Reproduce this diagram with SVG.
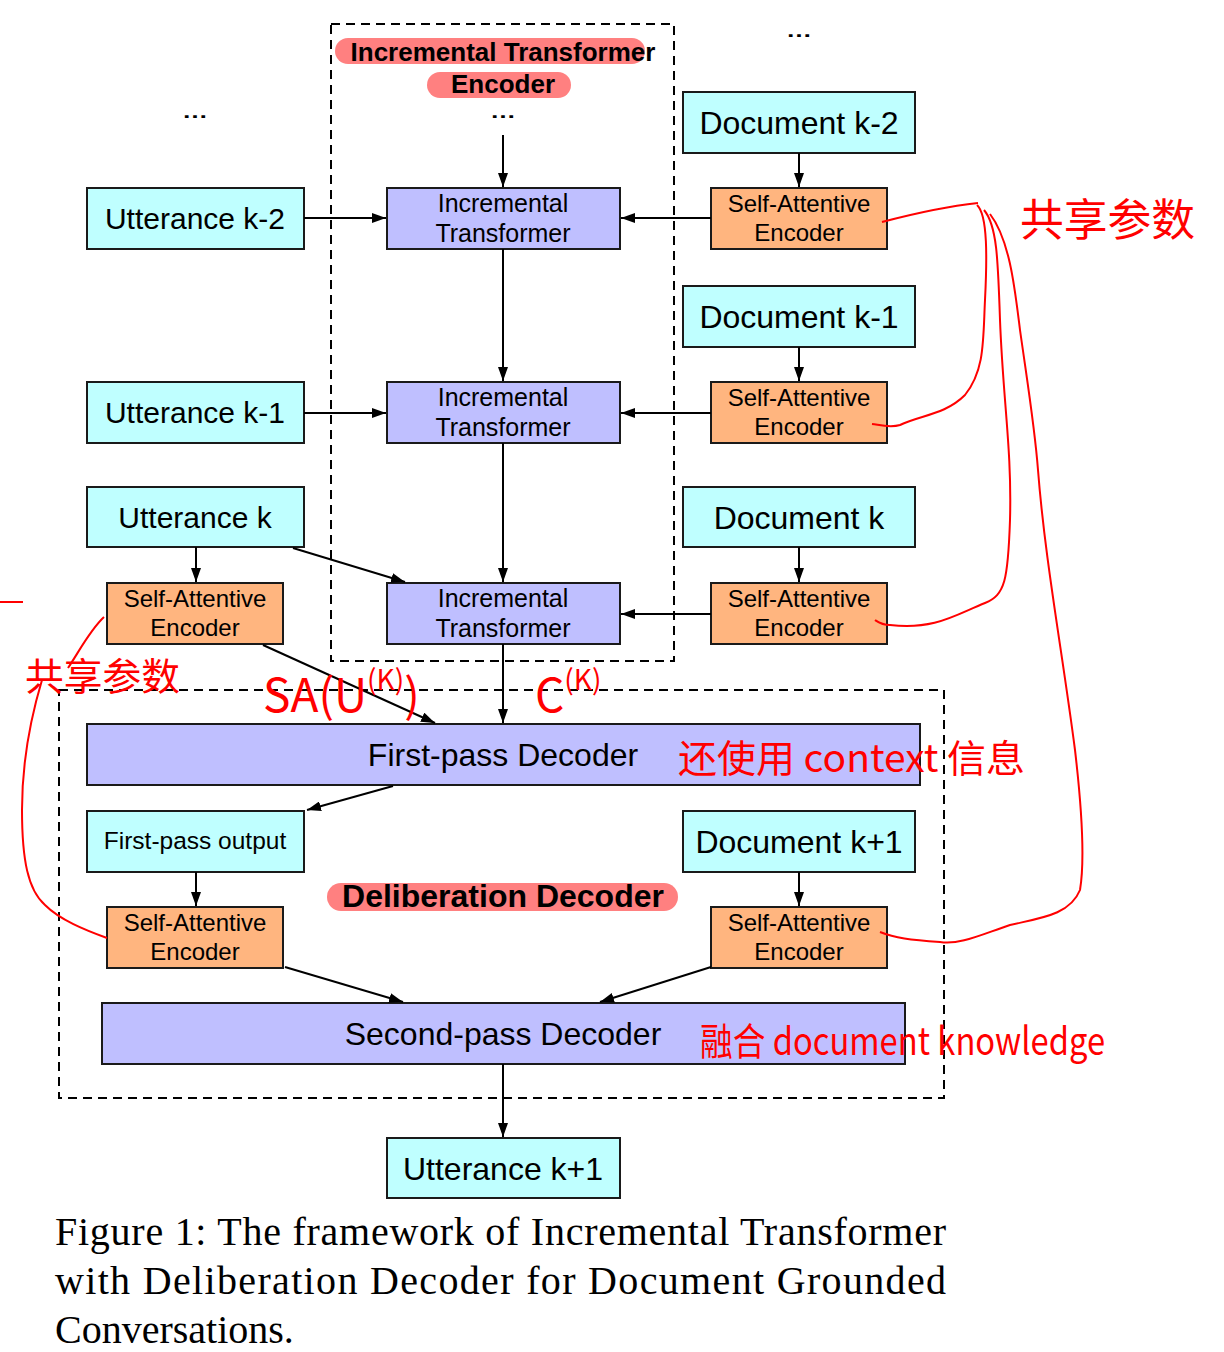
<svg xmlns="http://www.w3.org/2000/svg" width="1224" height="1352" viewBox="0 0 1224 1352">
<style>
.box{stroke:#1a1a1a;stroke-width:2}
.cy{fill:#bfffff}
.lv{fill:#bfbfff}
.or{fill:#ffb57f}
.t{font-family:"Liberation Sans",Arial,sans-serif;fill:#000;text-anchor:middle}
.b{font-weight:bold}
.dots{font-family:"Liberation Sans",Arial,sans-serif;fill:#000;font-weight:bold;font-size:18px}
.dash{fill:none;stroke:#000;stroke-width:2;stroke-dasharray:9,6}
.ln{fill:none;stroke:#000;stroke-width:2;marker-end:url(#ah)}
.pill{fill:#ff8080}
.red{fill:none;stroke:#f00;stroke-width:2}
.hw{font-family:"Noto Sans CJK SC","Noto Sans",sans-serif;fill:#f00;font-weight:400}
.cap{font-family:"Liberation Serif","Times New Roman",serif;font-size:40px;fill:#000}
</style>
<defs>
<marker id="ah" viewBox="0 0 14 10" refX="14" refY="5" markerWidth="14" markerHeight="10" markerUnits="userSpaceOnUse" orient="auto">
<path d="M0,0 L14,5 L0,10 z" fill="#000"/>
</marker>
</defs>
<rect width="1224" height="1352" fill="#fff"/>

<g id="encoder-frame">
<rect class="dash" x="331" y="24" width="343" height="637"/>
<rect class="pill" x="335" y="38" width="310" height="26" rx="13"/>
<text class="t b" x="503" y="61" font-size="26">Incremental Transformer</text>
<rect class="pill" x="427" y="72" width="144" height="26" rx="13"/>
<text class="t b" x="503" y="93" font-size="26">Encoder</text>
<text class="dots" x="490" y="118" textLength="26" lengthAdjust="spacingAndGlyphs">…</text>
</g>
<g id="deliberation-frame">
<rect class="dash" x="59" y="690" width="885" height="408"/>
<rect class="pill" x="327" y="883" width="351" height="28" rx="14"/>
<text class="t b" x="503" y="907" font-size="32">Deliberation Decoder</text>
</g>

<g id="dots-left"><text class="dots" x="182" y="118" textLength="26" lengthAdjust="spacingAndGlyphs">…</text></g>
<g id="dots-right"><text class="dots" x="786" y="37" textLength="26" lengthAdjust="spacingAndGlyphs">…</text></g>

<g id="utt-k2"><rect class="box cy" x="87" y="188" width="217" height="61"/><text class="t" x="195" y="229" font-size="30">Utterance k-2</text></g>
<g id="utt-k1"><rect class="box cy" x="87" y="382" width="217" height="61"/><text class="t" x="195" y="423" font-size="30">Utterance k-1</text></g>
<g id="utt-k"><rect class="box cy" x="87" y="487" width="217" height="60"/><text class="t" x="195" y="528" font-size="30">Utterance k</text></g>
<g id="sae-utt-k"><rect class="box or" x="107" y="583" width="176" height="61"/><text class="t" x="195" y="607" font-size="24">Self-Attentive</text><text class="t" x="195" y="636" font-size="24">Encoder</text></g>

<g id="it-k2"><rect class="box lv" x="387" y="188" width="233" height="61"/><text class="t" x="503" y="212" font-size="25">Incremental</text><text class="t" x="503" y="242" font-size="25">Transformer</text></g>
<g id="it-k1"><rect class="box lv" x="387" y="382" width="233" height="61"/><text class="t" x="503" y="406" font-size="25">Incremental</text><text class="t" x="503" y="436" font-size="25">Transformer</text></g>
<g id="it-k"><rect class="box lv" x="387" y="583" width="233" height="61"/><text class="t" x="503" y="607" font-size="25">Incremental</text><text class="t" x="503" y="637" font-size="25">Transformer</text></g>

<g id="doc-k2"><rect class="box cy" x="683" y="92" width="232" height="61"/><text class="t" x="799" y="134" font-size="32">Document k-2</text></g>
<g id="doc-k1"><rect class="box cy" x="683" y="286" width="232" height="61"/><text class="t" x="799" y="328" font-size="32">Document k-1</text></g>
<g id="doc-k"><rect class="box cy" x="683" y="487" width="232" height="60"/><text class="t" x="799" y="529" font-size="32">Document k</text></g>
<g id="sae-doc-k2"><rect class="box or" x="711" y="188" width="176" height="61"/><text class="t" x="799" y="212" font-size="24">Self-Attentive</text><text class="t" x="799" y="241" font-size="24">Encoder</text></g>
<g id="sae-doc-k1"><rect class="box or" x="711" y="382" width="176" height="61"/><text class="t" x="799" y="406" font-size="24">Self-Attentive</text><text class="t" x="799" y="435" font-size="24">Encoder</text></g>
<g id="sae-doc-k"><rect class="box or" x="711" y="583" width="176" height="61"/><text class="t" x="799" y="607" font-size="24">Self-Attentive</text><text class="t" x="799" y="636" font-size="24">Encoder</text></g>

<g id="first-pass-decoder"><rect class="box lv" x="87" y="724" width="833" height="61"/><text class="t" x="503" y="766" font-size="32">First-pass Decoder</text></g>
<g id="first-pass-output"><rect class="box cy" x="87" y="811" width="217" height="61"/><text class="t" x="195" y="849" font-size="24.5">First-pass output</text></g>
<g id="doc-k+1"><rect class="box cy" x="683" y="811" width="232" height="61"/><text class="t" x="799" y="853" font-size="32">Document k+1</text></g>
<g id="sae-fpo"><rect class="box or" x="107" y="907" width="176" height="61"/><text class="t" x="195" y="931" font-size="24">Self-Attentive</text><text class="t" x="195" y="960" font-size="24">Encoder</text></g>
<g id="sae-doc-k+1"><rect class="box or" x="711" y="907" width="176" height="61"/><text class="t" x="799" y="931" font-size="24">Self-Attentive</text><text class="t" x="799" y="960" font-size="24">Encoder</text></g>
<g id="second-pass-decoder"><rect class="box lv" x="102" y="1003" width="803" height="61"/><text class="t" x="503" y="1045" font-size="32">Second-pass Decoder</text></g>
<g id="utt-k+1"><rect class="box cy" x="387" y="1138" width="233" height="60"/><text class="t" x="503" y="1180" font-size="32">Utterance k+1</text></g>

<g id="connectors">
<line class="ln" x1="503" y1="135" x2="503" y2="187"/>
<line class="ln" x1="304" y1="218" x2="386" y2="218"/>
<line class="ln" x1="711" y1="218" x2="621" y2="218"/>
<line class="ln" x1="799" y1="153" x2="799" y2="187"/>
<line class="ln" x1="503" y1="249" x2="503" y2="381"/>
<line class="ln" x1="304" y1="413" x2="386" y2="413"/>
<line class="ln" x1="711" y1="413" x2="621" y2="413"/>
<line class="ln" x1="799" y1="347" x2="799" y2="381"/>
<line class="ln" x1="503" y1="443" x2="503" y2="582"/>
<line class="ln" x1="293" y1="548" x2="405" y2="582"/>
<line class="ln" x1="196" y1="547" x2="196" y2="582"/>
<line class="ln" x1="799" y1="547" x2="799" y2="582"/>
<line class="ln" x1="711" y1="614" x2="621" y2="614"/>
<line class="ln" x1="503" y1="644" x2="503" y2="723"/>
<line class="ln" x1="263" y1="645" x2="435" y2="723"/>
<line class="ln" x1="393" y1="786" x2="307" y2="810"/>
<line class="ln" x1="196" y1="872" x2="196" y2="906"/>
<line class="ln" x1="799" y1="872" x2="799" y2="906"/>
<line class="ln" x1="285" y1="967" x2="403" y2="1002"/>
<line class="ln" x1="711" y1="967" x2="600" y2="1002"/>
<line class="ln" x1="503" y1="1064" x2="503" y2="1137"/>
</g>

<g id="annotations">
<path class="red" stroke-width="3" d="M0,602 L23,602"/>
<path class="red" d="M882,222 C920,212 950,206 978,203"/>
<path class="red" d="M977,205 C988,215 987,260 985,300 C983,340 985,370 965,395 C945,415 920,415 900,425 C890,428 880,425 872,424"/>
<path class="red" d="M984,210 C997,225 998,260 1000,320 C1003,400 1012,450 1010,520 C1008,580 1005,595 985,603 C955,615 935,630 890,625 C882,625 878,622 875,620"/>
<path class="red" d="M990,214 C1010,240 1015,290 1020,330 C1030,400 1035,430 1038,470 C1045,560 1062,650 1075,750 C1082,810 1085,860 1080,890 C1070,915 1040,918 1010,925 C980,935 960,945 940,942 C910,940 895,938 880,932"/>
<path class="red" d="M104,617 C90,630 80,650 68,668"/>
<path class="red" d="M42,680 C30,720 22,760 22,810 C22,860 28,890 45,905 C60,920 85,930 107,938"/>
<text class="hw" x="1020" y="236" font-size="44" textLength="175" lengthAdjust="spacingAndGlyphs">共享参数</text>
<text class="hw" x="25" y="690" font-size="38" textLength="155" lengthAdjust="spacingAndGlyphs">共享参数</text>
<text class="hw" x="263" y="712" font-size="46">SA(U<tspan font-size="28" dy="-22">(K)</tspan><tspan dy="22">)</tspan></text>
<text class="hw" x="535" y="712" font-size="46">C<tspan font-size="28" dy="-22">(K)</tspan></text>
<text class="hw" x="678" y="772" font-size="38" textLength="347" lengthAdjust="spacingAndGlyphs">还使用 context 信息</text>
<text class="hw" x="700" y="1055" font-size="38" textLength="405" lengthAdjust="spacingAndGlyphs">融合 document knowledge</text>
</g>

<g id="caption">
<text class="cap" x="55" y="1245" textLength="891" lengthAdjust="spacing">Figure 1: The framework of Incremental Transformer</text>
<text class="cap" x="55" y="1294" textLength="891" lengthAdjust="spacing">with Deliberation Decoder for Document Grounded</text>
<text class="cap" x="55" y="1343">Conversations.</text>
</g>
</svg>
